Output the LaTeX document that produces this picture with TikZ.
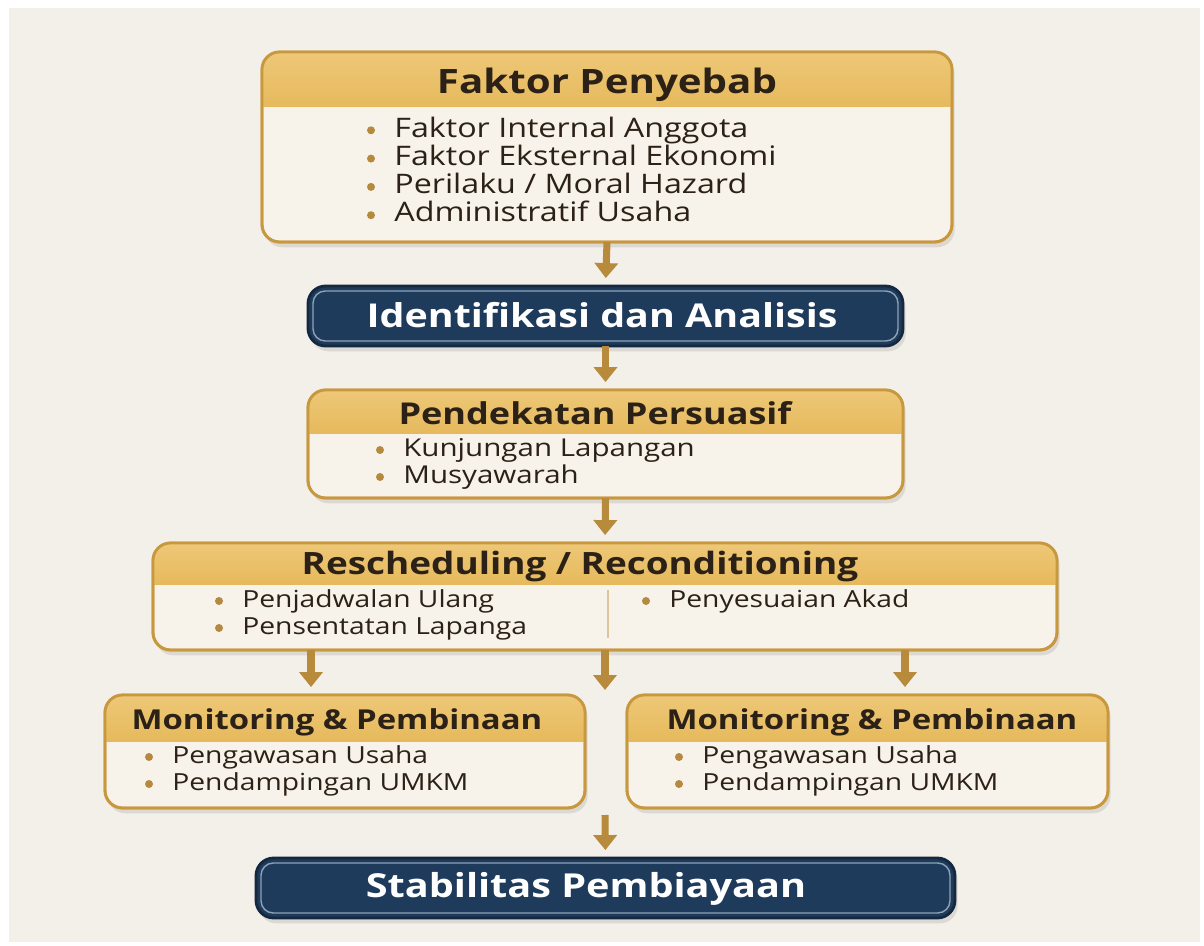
\documentclass[tikz,border=0pt]{standalone}
\usepackage{fontspec}
\setmainfont{Open Sans}[FakeStretch=1.2]
\usetikzlibrary{arrows.meta,calc,fit,shadows}

\definecolor{latar}{HTML}{F3EFE9}
\definecolor{krem}{HTML}{F8F3EA}
\definecolor{emas}{HTML}{E6B95C}
\definecolor{emasmuda}{HTML}{EEC878}
\definecolor{garis}{HTML}{C8983F}
\definecolor{panahc}{HTML}{B88A3C}
\definecolor{bulat}{HTML}{B58A3F}
\definecolor{biru}{HTML}{1F3B5C}
\definecolor{birutua}{HTML}{14283F}
\definecolor{garisbiru}{HTML}{8FA3B8}
\definecolor{teks}{HTML}{2B2116}
\definecolor{pemisah}{HTML}{DCC59A}

% kepala kotak: nama node, tinggi kepala (px)
\newcommand{\kepala}[2]{%
  \begin{scope}
    \clip[rounded corners=10pt] (#1.north west) rectangle (#1.south east);
    \fill[top color=emasmuda, bottom color=emas] (#1.north west) rectangle ($(#1.north east)+(0,#2)$);
  \end{scope}
  \draw[draw=garis, line width=1.6pt, rounded corners=10pt] (#1.north west) rectangle (#1.south east);
}
% butir dengan titik: nama, posisi teks, isi
\newcommand{\butir}[3]{%
  \node[butirteks] (#1) at (#2) {#3};
  \fill[bulat] ($(#1.west)+(-23,2)$) circle (4);
}

\tikzset{
  kotak/.style={rectangle, rounded corners=10pt, draw=garis, line width=1.6pt, fill=krem,
    inner sep=0pt, outer sep=0pt, drop shadow={opacity=.2, shadow xshift=1.5pt, shadow yshift=-3pt}},
  kotakbiru/.style={kotak, draw=birutua, fill=biru},
  judul/.style={font=\bfseries, text=teks, inner sep=0pt, text height=13pt, text depth=0pt},
  judulputih/.style={judul, text=white},
  butirteks/.style={text=teks, anchor=west, inner sep=0pt, text height=10pt, text depth=0pt},
  panah/.style={draw=panahc, line width=4pt, -{Triangle[width=0.46cm,length=0.3cm]}, shorten >=4.5pt},
}

\begin{document}
\begin{tikzpicture}[x={(0.02cm,0)}, y={(0,-0.02cm)}]
  \fill[white] (0,0) rectangle (1204,946);
  \fill[latar] (9,8) rectangle (1200,942);
  \useasboundingbox (0,0) rectangle (1204,946);

  % kotak-kotak
  \node[kotak, fit={(262,52) (952,242)}] (penyebab) {};
  \kepala{penyebab}{55}
  \node[kotakbiru, fit={(308,286) (903,346)}] (identifikasi) {};
  \draw[garisbiru, line width=0.8pt, rounded corners=7pt]
    ($(identifikasi.north west)+(5,5)$) rectangle ($(identifikasi.south east)+(-5,-5)$);
  \node[kotak, fit={(308,390) (903,498)}] (persuasif) {};
  \kepala{persuasif}{43}
  \node[kotak, fit={(153,543) (1057,650)}] (resched) {};
  \kepala{resched}{41}
  \node[kotak, fit={(105,695) (585,808)}] (monkiri) {};
  \kepala{monkiri}{46}
  \node[kotak, fit={(627,695) (1108,808)}] (monkanan) {};
  \kepala{monkanan}{46}
  \node[kotakbiru, fit={(256,858) (955,918)}] (stabilitas) {};
  \draw[garisbiru, line width=0.8pt, rounded corners=7pt]
    ($(stabilitas.north west)+(5,5)$) rectangle ($(stabilitas.south east)+(-5,-5)$);

  % judul
  \node[judul, font=\fontsize{19.1}{22}\selectfont\bfseries] (j1) at (607,82) {Faktor Penyebab};
  \node[judulputih, font=\fontsize{18.7}{22}\selectfont\bfseries] (j2) at (602,316) {Identifikasi dan Analisis};
  \node[judul, font=\fontsize{17.1}{20}\selectfont\bfseries] (j3) at (595,413) {Pendekatan Persuasif};
  \node[judul, font=\fontsize{17.5}{20}\selectfont\bfseries] (j4) at (580,563) {Rescheduling / Reconditioning};
  \node[judul, font=\fontsize{15.6}{18}\selectfont\bfseries] (j5) at (337,718) {Monitoring \& Pembinaan};
  \node[judul, font=\fontsize{15.6}{18}\selectfont\bfseries] (j6) at (872,718) {Monitoring \& Pembinaan};
  \node[judulputih, font=\fontsize{18.8}{22}\selectfont\bfseries] (j7) at (586,886) {Stabilitas Pembiayaan};

  % butir
  \begin{scope}[every node/.append style={font=\fontsize{15.3}{18}\selectfont}]
    \foreach \teks [count=\i] in {Faktor Internal Anggota, Faktor Eksternal Ekonomi,
        Perilaku / Moral Hazard, Administratif Usaha} {
      \butir{p\i}{394,{100+28.3*\i}}{\teks}
    }
  \end{scope}
  \begin{scope}[every node/.append style={font=\fontsize{14}{18}\selectfont}]
    \foreach \teks [count=\i] in {Kunjungan Lapangan, Musyawarah} {
      \butir{q\i}{403,{421+27*\i}}{\teks}
    }
  \end{scope}
  \begin{scope}[every node/.append style={font=\fontsize{13.4}{18}\selectfont}]
    \foreach \teks [count=\i] in {Penjadwalan Ulang, Pensentatan Lapanga} {
      \butir{r\i}{242,{572+27*\i}}{\teks}
    }
    \butir{r3}{669,599}{Penyesuaian Akad}
    \foreach \x/\nama in {172/a, 702/b} {
      \butir{\nama1}{\x,755}{Pengawasan Usaha}
      \butir{\nama2}{\x,782}{Pendampingan UMKM}
    }
  \end{scope}
  \draw[pemisah, line width=0.8pt] (608,590) -- (608,638);

  % panah
  \coordinate (ki) at (311,0);
  \coordinate (ka) at (905,0);
  \coordinate (tengah1) at (605,690);
  \coordinate (tengah2) at (605,815);
  \draw[panah] (penyebab.south) -- (identifikasi.north);
  \draw[panah] (identifikasi.south) -- (persuasif.north);
  \draw[panah] (persuasif.south) -- (resched.north);
  \draw[panah] (resched.south -| ki) -- (monkiri.north -| ki);
  \draw[panah, shorten >=0pt] (resched.south) -- (tengah1);
  \draw[panah] (resched.south -| ka) -- (monkanan.north -| ka);
  \draw[panah, shorten <=0pt] (tengah2) -- (stabilitas.north);
\end{tikzpicture}
\end{document}
